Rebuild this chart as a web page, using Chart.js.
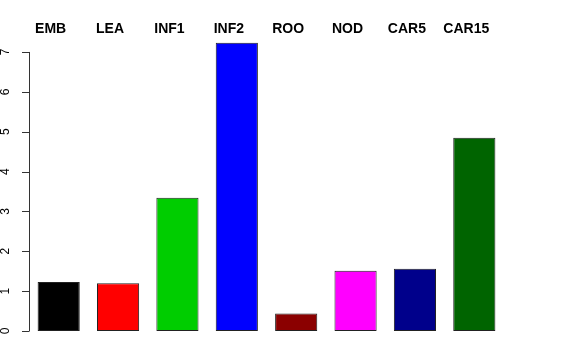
<!DOCTYPE html>
<html>
<head>
<meta charset="utf-8">
<script src="https://cdn.jsdelivr.net/npm/chart.js@4/dist/chart.umd.min.js"></script>
<style>
  html, body { margin: 0; padding: 0; background: #fff; }
  #wrap { width: 576px; height: 360px; }
</style>
</head>
<body>
<div id="wrap"><canvas id="barChart"></canvas></div>
<script>
const categories = ['EMB', 'LEA', 'INF1', 'INF2', 'ROO', 'NOD', 'CAR5', 'CAR15'];
const values = [1.23, 1.20, 3.34, 7.23, 0.44, 1.51, 1.56, 4.85];
const barColors = ['#000000', '#ff0000', '#00cd00', '#0000ff', '#8b0000', '#ff00ff', '#00008b', '#006400'];
const yTicks = [0, 1, 2, 3, 4, 5, 6, 7];
// the label row above the bars is nudged a little left of each bar centre (in bar slots)
const labelShift = -0.135;

// R-style axis on the left plus the label row above the plot
const rAxis = {
    id: 'rAxis',
    afterDraw(chart) {
        const ctx = chart.ctx;
        const x = chart.scales.x;
        const y = chart.scales.y;
        const left = chart.chartArea.left;

        ctx.save();
        ctx.strokeStyle = '#333';
        ctx.lineWidth = 1;
        ctx.beginPath();
        ctx.moveTo(left + 0.5, y.getPixelForValue(yTicks[0]));
        ctx.lineTo(left + 0.5, y.getPixelForValue(yTicks[yTicks.length - 1]));
        yTicks.forEach(t => {
            const py = Math.round(y.getPixelForValue(t)) + 0.5;
            ctx.moveTo(left + 0.5, py);
            ctx.lineTo(left - 7, py);
        });
        ctx.stroke();

        ctx.fillStyle = '#000';
        ctx.font = '12px "Liberation Sans", Arial, sans-serif';
        ctx.textAlign = 'center';
        ctx.textBaseline = 'middle';
        yTicks.forEach(t => {
            ctx.save();
            ctx.translate(left - 23, y.getPixelForValue(t));
            ctx.rotate(-Math.PI / 2);
            ctx.fillText(String(t), 0, 0);
            ctx.restore();
        });

        ctx.font = 'bold 14px "Liberation Sans", Arial, sans-serif';
        const slot = x.getPixelForValue(1) - x.getPixelForValue(0);
        categories.forEach((c, i) => {
            const px = x.getPixelForValue(i) + labelShift * slot;
            ctx.fillText(c, px, 29);
        });
        ctx.restore();
    }
};

new Chart(document.getElementById('barChart'), {
    type: 'bar',
    data: {
        labels: categories,
        datasets: [{
            data: values,
            backgroundColor: barColors,
            borderColor: '#222',
            borderWidth: 1,
            borderSkipped: false,
            barPercentage: 0.71,
            categoryPercentage: 1.0
        }]
    },
    options: {
        responsive: true,
        maintainAspectRatio: false,
        animation: false,
        layout: { padding: { left: 29, right: 72, top: 40, bottom: 29 } },
        plugins: {
            legend: { display: false },
            tooltip: { enabled: false }
        },
        scales: {
            x: { display: false },
            y: { display: false, min: 0, max: 7.3 }
        }
    },
    plugins: [rAxis]
});
</script>
</body>
</html>
